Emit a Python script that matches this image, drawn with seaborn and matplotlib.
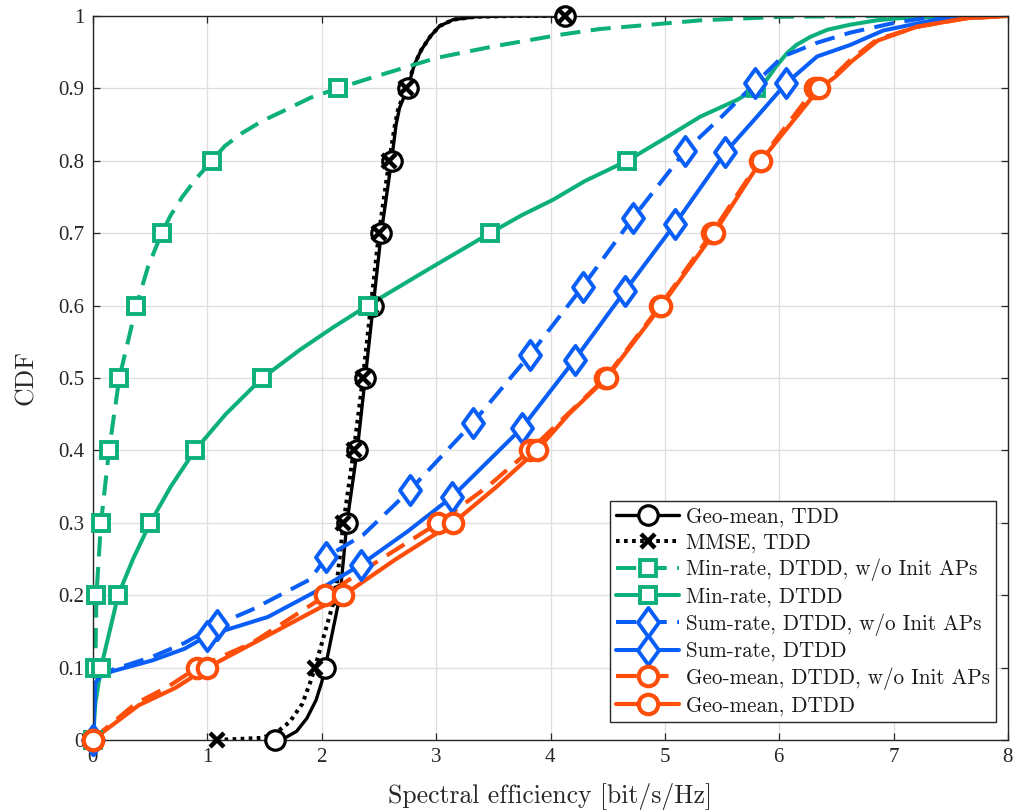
import numpy as np
import pandas as pd
import matplotlib
matplotlib.use("Agg")
import matplotlib.pyplot as plt
from matplotlib.lines import Line2D
from matplotlib.path import Path
import seaborn as sns

# ---- spectral efficiency CDF samples (x: bit/s/Hz, y: CDF) ----
geo_tdd_se = [1.59, 1.68, 1.78, 1.87, 1.95, 2.00, 2.03, 2.16, 2.22, 2.31, 2.38, 2.45, 2.52, 2.61, 2.65, 2.68, 2.75,
              2.81, 2.87, 2.95, 3.03, 3.15, 3.35, 3.65, 4.13]
geo_tdd_cdf = [0.0, 0.003, 0.012, 0.03, 0.055, 0.08, 0.1, 0.2, 0.3, 0.4, 0.5, 0.6, 0.7, 0.8, 0.85, 0.873, 0.9,
               0.933, 0.953, 0.972, 0.986, 0.995, 0.999, 1.0, 1.0]
geo_tdd_marks = [0, 6, 7, 8, 9, 10, 11, 12, 13, 16, 24]

mmse_tdd_se = [1.08, 1.48, 1.60, 1.72, 1.83, 1.90, 1.94, 2.12, 2.19, 2.28, 2.36, 2.43, 2.50, 2.59, 2.64, 2.67, 2.74,
               2.81, 2.87, 2.95, 3.03, 3.15, 3.35, 3.65, 4.13]
mmse_tdd_cdf = [0.0, 0.003, 0.01, 0.025, 0.05, 0.08, 0.1, 0.2, 0.3, 0.4, 0.5, 0.6, 0.7, 0.8, 0.85, 0.873, 0.9,
                0.933, 0.953, 0.972, 0.986, 0.995, 0.999, 1.0, 1.0]
mmse_tdd_marks = [0, 6, 7, 8, 9, 10, 11, 12, 13, 16, 24]

minrate_noinit_se = [0.0, 0.02, 0.03, 0.07, 0.14, 0.23, 0.38, 0.48, 0.60, 0.68, 0.78, 0.90, 1.04, 1.15, 1.30, 1.48,
                     1.68, 1.90, 2.14, 2.42, 3.0, 3.5, 4.08, 4.43, 5.02, 5.31, 6.03, 7.0, 8.0]
minrate_noinit_cdf = [0.0, 0.1, 0.2, 0.3, 0.4, 0.5, 0.6, 0.653, 0.7, 0.725, 0.75, 0.775, 0.8, 0.82, 0.838, 0.855,
                      0.870, 0.887, 0.9, 0.914, 0.942, 0.958, 0.974, 0.982, 0.99, 0.994, 0.999, 1.0, 1.0]
minrate_noinit_marks = [0, 1, 2, 3, 4, 5, 6, 8, 12, 18]

minrate_se = [0.0, 0.02, 0.07, 0.22, 0.35, 0.50, 0.68, 0.89, 1.16, 1.48, 1.81, 2.10, 2.40, 2.92, 3.47, 3.75, 4.02,
              4.30, 4.67, 5.02, 5.31, 5.63, 5.80, 5.89, 5.98, 6.07, 6.15, 6.27, 6.42, 6.62, 6.85, 7.05, 7.6, 8.0]
minrate_cdf = [0.0, 0.05, 0.1, 0.2, 0.25, 0.3, 0.35, 0.4, 0.45, 0.5, 0.539, 0.57, 0.6, 0.649, 0.70, 0.725, 0.746,
               0.772, 0.80, 0.833, 0.861, 0.884, 0.90, 0.912, 0.932, 0.949, 0.96, 0.971, 0.981, 0.988, 0.994,
               0.997, 1.0, 1.0]
minrate_marks = [0, 2, 3, 5, 7, 9, 12, 14, 18, 22]

sumrate_noinit_se = [0.0, 0.02, 0.06, 0.17, 0.52, 0.80, 1.08, 1.39, 1.90, 2.04, 2.36, 2.77, 3.32, 3.82, 4.28, 4.72,
                     5.18, 5.49, 5.79, 6.03, 6.33, 6.62, 6.99, 7.34, 8.0]
sumrate_noinit_cdf = [0.0, 0.079, 0.088, 0.097, 0.115, 0.134, 0.159, 0.18, 0.222, 0.253, 0.283, 0.345, 0.438, 0.532,
                      0.626, 0.721, 0.814, 0.86, 0.907, 0.944, 0.963, 0.977, 0.99, 0.999, 1.0]
sumrate_noinit_marks = [0, 6, 9, 11, 12, 13, 14, 15, 16, 18]

sumrate_se = [0.0, 0.02, 0.06, 0.17, 0.52, 0.80, 1.0, 1.53, 1.97, 2.34, 2.75, 3.14, 3.75, 4.21, 4.65, 5.09, 5.53,
              5.80, 6.06, 6.33, 6.62, 6.91, 7.34, 7.93]
sumrate_cdf = [0.0, 0.079, 0.087, 0.095, 0.110, 0.126, 0.144, 0.17, 0.207, 0.242, 0.288, 0.336, 0.431, 0.525, 0.620,
               0.713, 0.812, 0.86, 0.907, 0.944, 0.96, 0.98, 0.994, 1.0]
sumrate_marks = [0, 6, 9, 11, 12, 13, 14, 15, 16, 18]

geo_noinit_se = [0.0, 0.02, 0.37, 0.66, 0.91, 1.39, 1.97, 2.03, 2.52, 3.02, 3.45, 3.82, 4.15, 4.48, 4.96, 5.41, 5.83,
                 6.31, 6.47, 6.62, 6.85, 7.2, 7.64, 8.0]
geo_noinit_cdf = [0.0, 0.004, 0.05, 0.074, 0.10, 0.134, 0.193, 0.2, 0.25, 0.3, 0.35, 0.4, 0.45, 0.5, 0.6, 0.7, 0.8,
                  0.9, 0.916, 0.939, 0.967, 0.985, 0.997, 1.0]
geo_noinit_marks = [0, 4, 7, 9, 11, 13, 14, 15, 16, 17]

geo_se = [0.0, 0.02, 0.40, 0.72, 1.0, 1.5, 2.19, 2.65, 3.15, 3.53, 3.88, 4.16, 4.49, 4.97, 5.43, 5.84, 6.35, 6.49,
          6.63, 6.86, 7.2, 7.64, 8.0]
geo_cdf = [0.0, 0.003, 0.048, 0.072, 0.1, 0.142, 0.2, 0.25, 0.3, 0.35, 0.4, 0.45, 0.5, 0.6, 0.7, 0.8, 0.9, 0.916,
           0.937, 0.966, 0.985, 0.997, 1.0]
geo_marks = [0, 4, 6, 8, 10, 12, 13, 14, 15, 16]

labels = [
    "Geo-mean, TDD",
    "MMSE, TDD",
    "Min-rate, DTDD, w/o Init APs",
    "Min-rate, DTDD",
    "Sum-rate, DTDD, w/o Init APs",
    "Sum-rate, DTDD",
    "Geo-mean, DTDD, w/o Init APs",
    "Geo-mean, DTDD",
]

x_ticks = [0, 1, 2, 3, 4, 5, 6, 7, 8]
y_ticks = [0, 0.1, 0.2, 0.3, 0.4, 0.5, 0.6, 0.7, 0.8, 0.9, 1.0]
y_ticklabels = ["0", "0.1", "0.2", "0.3", "0.4", "0.5", "0.6", "0.7", "0.8", "0.9", "1"]

# ---- styling ----
BLACK = "#000000"
GREEN = "#0DB07C"
BLUE = "#0A5EF8"
ORANGE = "#FF4E0A"

# tall diamond marker
diamond = Path([(0, 1), (0.72, 0), (0, -1), (-0.72, 0), (0, 1)],
               [Path.MOVETO, Path.LINETO, Path.LINETO, Path.LINETO, Path.CLOSEPOLY])

DASH = (0, (5.0, 2.6))
DOT = (0, (0.9, 1.1))

series = [
    dict(se=geo_tdd_se, cdf=geo_tdd_cdf, marks=geo_tdd_marks, color=BLACK, ls="-", lw=2.4,
         marker="o", ms=14, mew=2.3),
    dict(se=mmse_tdd_se, cdf=mmse_tdd_cdf, marks=mmse_tdd_marks, color=BLACK, ls=DOT, lw=2.9,
         marker="x", ms=10, mew=3.2),
    dict(se=minrate_noinit_se, cdf=minrate_noinit_cdf, marks=minrate_noinit_marks, color=GREEN, ls=DASH, lw=2.9,
         marker="s", ms=12, mew=2.8),
    dict(se=minrate_se, cdf=minrate_cdf, marks=minrate_marks, color=GREEN, ls="-", lw=2.9,
         marker="s", ms=12, mew=2.8),
    dict(se=sumrate_noinit_se, cdf=sumrate_noinit_cdf, marks=sumrate_noinit_marks, color=BLUE, ls=DASH, lw=2.9,
         marker=diamond, ms=21, mew=2.8),
    dict(se=sumrate_se, cdf=sumrate_cdf, marks=sumrate_marks, color=BLUE, ls="-", lw=2.9,
         marker=diamond, ms=21, mew=2.8),
    dict(se=geo_noinit_se, cdf=geo_noinit_cdf, marks=geo_noinit_marks, color=ORANGE, ls=DASH, lw=3.0,
         marker="o", ms=14, mew=3.0),
    dict(se=geo_se, cdf=geo_cdf, marks=geo_marks, color=ORANGE, ls="-", lw=3.0,
         marker="o", ms=14, mew=3.0),
]

sns.set_theme(style="ticks")
plt.rcParams["font.family"] = ["cmr10", "DejaVu Serif"]
plt.rcParams["axes.formatter.use_mathtext"] = True

fig = plt.figure(figsize=(10.16, 8.10), dpi=100)
ax = fig.add_axes([93 / 1016, 1 - 740 / 810, 915 / 1016, 724 / 810])

handles = []
for s, lab in zip(series, labels):
    df = pd.DataFrame({"se": s["se"], "cdf": s["cdf"]})
    sns.lineplot(data=df, x="se", y="cdf", ax=ax, sort=False, estimator=None,
                 color=s["color"], linewidth=s["lw"], linestyle=s["ls"],
                 dash_capstyle="butt", solid_capstyle="round", solid_joinstyle="round",
                 legend=False)
    mk = df.iloc[s["marks"]]
    face = "none" if s["marker"] == "x" else "white"
    ax.plot(mk["se"], mk["cdf"], linestyle="none", marker=s["marker"], markersize=s["ms"],
            markeredgewidth=s["mew"], markeredgecolor=s["color"], markerfacecolor=face,
            clip_on=False, zorder=3)
    handles.append(Line2D([], [], color=s["color"], linestyle=s["ls"], linewidth=s["lw"],
                          marker=s["marker"], markersize=s["ms"], markeredgewidth=s["mew"],
                          markeredgecolor=s["color"], markerfacecolor=face,
                          dash_capstyle="butt"))

ax.set_xlim(0, 8)
ax.set_ylim(0, 1)
ax.set_xticks(x_ticks)
ax.set_yticks(y_ticks)
ax.set_yticklabels(y_ticklabels)
ax.grid(True, color="#dedede", linewidth=0.9)
ax.set_axisbelow(True)
for sp in ax.spines.values():
    sp.set_visible(True)
    sp.set_color("#262626")
    sp.set_linewidth(1.0)
ax.tick_params(direction="in", length=5, width=0.9, color="#262626",
               top=True, right=True, labelcolor="#262626", pad=6)
for t in ax.get_xticklabels() + ax.get_yticklabels():
    t.set_fontfamily("Liberation Serif")
    t.set_fontsize(15)

ax.set_xlabel("Spectral efficiency [bit/s/Hz]", fontsize=18.5, color="#262626", labelpad=11)
ax.set_ylabel("CDF", fontsize=18.5, color="#262626", labelpad=15)

leg = ax.legend(handles, labels, loc="lower right", bbox_to_anchor=(0.987, 0.025),
                borderaxespad=0, fontsize=15.2, handlelength=3.0, handletextpad=0.3,
                labelspacing=0.28, borderpad=0.3, fancybox=False, framealpha=1,
                edgecolor="#262626")
leg.get_frame().set_linewidth(1.0)
for t in leg.get_texts():
    t.set_color("#1a1a1a")

fig.savefig("out.png", dpi=100)
